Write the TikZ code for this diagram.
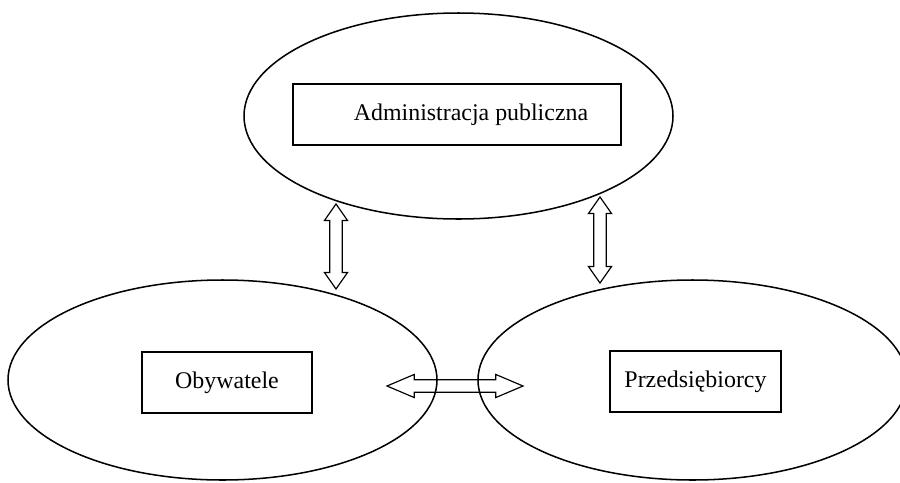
\documentclass[tikz,border=0pt]{standalone}
\usepackage{fontspec}
\setmainfont{Liberation Serif}
\usepackage{tikz}
\usetikzlibrary{shapes.geometric, shapes.arrows}

\tikzset{
    oval/.style={ellipse, draw, line width=0.65pt, inner sep=0pt, minimum width=6.435cm},
    box/.style={rectangle, draw, line width=0.6pt, inner sep=0pt, minimum height=0.915cm, font=\fontsize{10.2}{12}\selectfont},
    dblarrow/.style={double arrow, draw, line width=0.5pt, inner xsep=0pt, inner ysep=0.085cm, double arrow head extend=0.08cm, double arrow tip angle=70}
}

\begin{document}
\begin{tikzpicture}[x=1.5cm, y=1.5cm]
    \useasboundingbox (0,0) rectangle (9,4.82);
    \clip (0,0) rectangle (9,4.82);

    \node[oval, minimum height=3.09cm] (adm) at (4.585,3.66) {};
    \node[oval, minimum height=3.0cm] (oby) at (2.225,1.02) {};
    \node[oval, minimum height=3.0cm] (prz) at (6.925,1.02) {};

    \node[box, minimum width=4.92cm] (admbox) at (4.57,3.675) {\hspace*{0.42cm}Administracja publiczna};
    \node[box, minimum width=2.55cm] (obybox) at (2.27,0.995) {Obywatele};
    \node[box, minimum width=2.565cm] (przbox) at (6.955,1.005) {Przedsiębiorcy};

    % arrow ends
    \coordinate (adm-l) at (3.36,2.78);
    \coordinate (oby-t) at (3.36,1.93);
    \coordinate (adm-r) at (6.00,2.85);
    \coordinate (prz-t) at (6.00,1.99);
    \coordinate (oby-r) at (3.87,0.96);
    \coordinate (prz-l) at (5.23,0.96);

    \path (adm-l) -- (oby-t) node[midway, sloped, dblarrow, minimum height=1.275cm] (a1) {};
    \path (adm-r) -- (prz-t) node[midway, sloped, dblarrow, minimum height=1.29cm] (a2) {};
    \path (oby-r) -- (prz-l) node[midway, sloped, dblarrow, minimum height=2.04cm, double arrow tip angle=46] (a3) {};

\end{tikzpicture}
\end{document}
